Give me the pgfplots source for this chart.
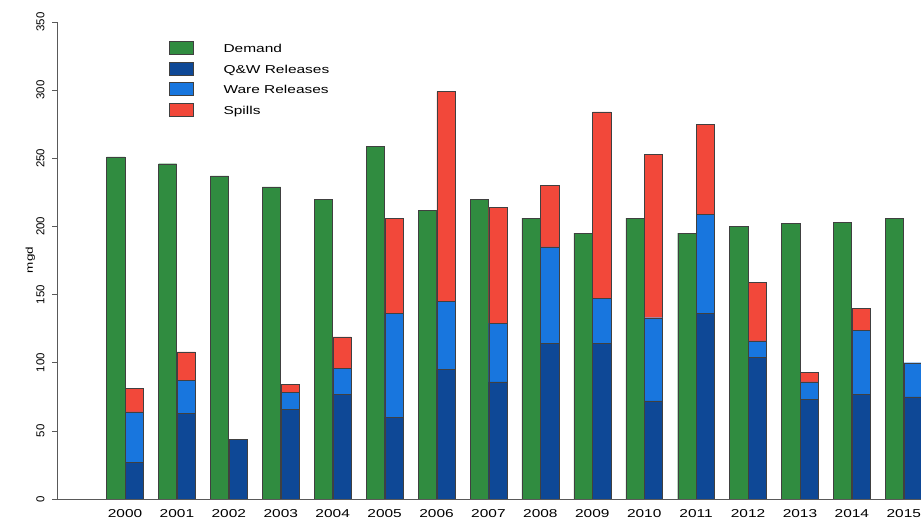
\documentclass[border=0pt]{standalone}
\usepackage{fontspec}
\setmainfont{Liberation Sans}
\newfontfamily\widefont[FakeStretch=1.35]{Liberation Sans}
\usepackage{pgfplots}
\pgfplotsset{compat=1.18}
\usepackage{pgfplotstable}

\definecolor{cdem}{RGB}{48,140,64}
\definecolor{cqw}{RGB}{14,72,150}
\definecolor{cware}{RGB}{24,118,222}
\definecolor{cspill}{RGB}{242,72,58}

\pgfplotstableread{
year demand qw ware spills
2000 251 27 37 17
2001 246 63 24 21
2002 237 44 0 0
2003 229 66 12 6
2004 220 77 19 23
2005 259 60 76 70
2006 212 95 50 154
2007 220 86 43 85
2008 206 114 71 45
2009 195 114 33 137
2010 206 72 61 120
2011 195 136 73 66
2012 200 104 12 43
2013 202 73 13 7
2014 203 77 47 16
2015 206 75 25 0
}\datatable

\pgfplotsset{
  common/.style={
    scale only axis, width=864bp, height=477bp,
    xmin=1998.69, xmax=2015.33, ymin=0, ymax=350,
    at={(0,0)}, anchor=south west,
    bar width=0.35,
  },
  sq/.style={legend image code/.code={\draw[##1] (0bp,-5.2bp) rectangle (24bp,7.8bp);}},
}

\begin{document}
\begin{tikzpicture}
\useasboundingbox (-57bp,-20bp) rectangle (864bp,499bp);
\begin{axis}[common, ybar, bar shift=-0.18,
  axis x line=bottom, axis y line=left,
  axis line style={-, draw=gray!70!black, line width=0.6bp},
  xtick={2000,...,2015}, xtick style={draw=none},
  ytick={0,50,...,350}, tick align=outside, major tick length=5bp,
  ytick style={draw=gray!70!black, line width=0.6bp},
  /pgf/number format/1000 sep={},
  /pgf/number format/assume math mode=true,
  xticklabel style={font=\widefont\fontsize{11.5}{12}\selectfont, yshift=-2bp},
  yticklabel style={font=\fontsize{11.5}{12}\selectfont, rotate=90, anchor=south, yshift=4bp},
  ylabel={mgd},
  ylabel style={font=\widefont\fontsize{10}{12}\selectfont, at={(axis description cs:-0.031,0.501)}, anchor=center, rotate=0},
]
\addplot[fill=cdem, draw=black!75, line width=0.4bp] table[x=year,y=demand]{\datatable};
\end{axis}
\begin{axis}[common, ybar stacked, bar shift=0.18, hide axis,
  legend cell align=left,
  legend style={draw=none, fill=none, at={(rel axis cs:0.1296,0.960)}, anchor=north west,
    inner sep=0pt, row sep=7.1bp, column sep=30bp,
    nodes={inner sep=0pt, font=\widefont\fontsize{11.5}{12}\selectfont}},
]
\addlegendimage{sq, fill=cdem, draw=black!75, line width=0.4bp}
\addlegendentry{Demand}
\addplot[sq, fill=cqw, draw=black!75, line width=0.4bp] table[x=year,y=qw]{\datatable};
\addlegendentry{Q\&W Releases}
\addplot[sq, fill=cware, draw=black!75, line width=0.4bp] table[x=year,y=ware]{\datatable};
\addlegendentry{Ware Releases}
\addplot[sq, fill=cspill, draw=black!75, line width=0.4bp] table[x=year,y=spills]{\datatable};
\addlegendentry{Spills}
\end{axis}
\end{tikzpicture}
\end{document}
